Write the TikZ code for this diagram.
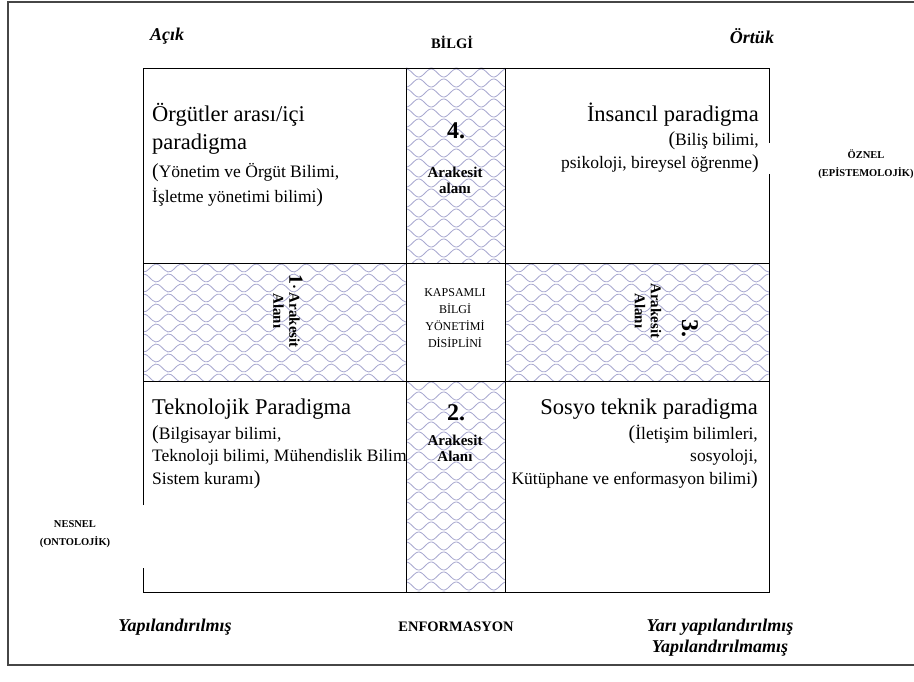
\documentclass[tikz,border=0pt]{standalone}
\usepackage{fontspec}
\setmainfont{Liberation Serif}
\definecolor{hatchc}{RGB}{168,168,208}
\definecolor{framec}{RGB}{70,70,70}
\newcommand{\bigpar}[1]{{\fontsize{20}{20}\selectfont #1}}
\newcommand{\hatchfill}[4]{%
  \begin{scope}
    \clip (#1,#2) rectangle (#3,#4);
    \fill[white] (#1,#2) rectangle (#3,#4);
    \pgfmathtruncatemacro{\nrows}{(#4-#2)/10+2}
    \foreach \k in {0,...,\nrows} {
      \draw[hatchline] plot[domain=#1-6:#3+6, samples=90, smooth]
        (\x, {#2 - 5 + \k*10 + 4*sin(14.4*\x + 180*\k)});
    }
  \end{scope}}
\begin{document}
\begin{tikzpicture}[x=1pt,y=-1pt,
  gridline/.style={draw=black, line width=0.9pt},
  hatchline/.style={draw=hatchc, line width=0.8pt},
  big/.style={font=\fontsize{22.5}{26}\selectfont, inner sep=0pt},
  sub/.style={font=\fontsize{17.5}{20}\selectfont, inner sep=0pt},
  ital/.style={font=\bfseries\itshape\fontsize{18}{21}\selectfont, inner sep=0pt, align=center},
  capb/.style={font=\bfseries\fontsize{14.5}{16}\selectfont, inner sep=0pt},
  side/.style={font=\bfseries\fontsize{10.5}{18}\selectfont, inner sep=0pt, align=center},
  arak/.style={font=\bfseries\fontsize{15}{16}\selectfont, inner sep=0pt, align=center},
  num/.style={font=\bfseries\fontsize{24}{24}\selectfont, inner sep=0pt},
  core/.style={font=\fontsize{12}{17}\selectfont, inner sep=0pt, align=center}]
\useasboundingbox (0,0) rectangle (914,682);
% paper frame
\draw[framec, line width=1.6pt] (930,2) -- (8,2) -- (8,665) -- (930,665);
% named grid coordinates
\coordinate (NW) at (143,68);
\coordinate (NE) at (769,68);
\coordinate (SE) at (769,592);
\coordinate (SW) at (143,592);
% hatched bands
\hatchfill{406}{68}{505}{263}
\hatchfill{406}{381}{505}{592}
\hatchfill{143}{263}{406}{381}
\hatchfill{505}{263}{769}{381}
% grid lines
\draw[gridline] (NW) -- (NE) -- (769,143);
\draw[gridline] (769,174) -- (SE) -- (SW) -- (143,568);
\draw[gridline] (143,505) -- (NW);
\draw[gridline] (406,68) -- (406,592);
\draw[gridline] (505,68) -- (505,592);
\draw[gridline] (143,263) -- (769,263);
\draw[gridline] (143,381) -- (769,381);
% top-left quadrant
\node[big, anchor=base west] (tl1) at (152,122) {Örgütler arası/içi};
\node[big, anchor=base west] (tl2) at (152,150) {paradigma};
\node[sub, anchor=base west] (tl3) at (152,178) {\bigpar{(}Yönetim ve Örgüt Bilimi,};
\node[sub, anchor=base west] (tl4) at (152,203) {İşletme yönetimi bilimi\bigpar{)}};
% top-right quadrant
\node[big, anchor=base east] (tr1) at (759,122) {İnsancıl paradigma};
\node[sub, anchor=base east] (tr2) at (759,146) {\bigpar{(}Biliş bilimi,};
\node[sub, anchor=base east] (tr3) at (759,169) {psikoloji, bireysel öğrenme\bigpar{)}};
% bottom-left quadrant
\node[big, anchor=base west] (bl1) at (152,414) {Teknolojik Paradigma};
\node[sub, anchor=base west] (bl2) at (152,439) {\bigpar{(}Bilgisayar bilimi,};
\node[sub, anchor=base west] (bl3) at (152,461) {Teknoloji bilimi, Mühendislik Bilim};
\node[sub, anchor=base west] (bl4) at (152,484) {Sistem kuramı\bigpar{)}};
% bottom-right quadrant
\node[big, anchor=base east] (br1) at (758,414) {Sosyo teknik paradigma};
\node[sub, anchor=base east] (br2) at (758,439) {\bigpar{(}İletişim bilimleri,};
\node[sub, anchor=base east] (br3) at (758,461) {sosyoloji,};
\node[sub, anchor=base east] (br4) at (758,484) {Kütüphane ve enformasyon bilimi\bigpar{)}};
% intersection areas
\node[num] (n4) at (456,131) {4.};
\node[arak] (a4) at (455,180) {Arakesit\\alanı};
\node[num] (n2) at (456,413) {2.};
\node[arak] (a2) at (455,448) {Arakesit\\Alanı};
\node[arak, rotate=-90] (a1) at (288,311) {{\fontsize{20}{16}\selectfont 1}· Arakesit\\Alanı};
\node[num, rotate=-90] (n3) at (690,328) {3.};
\node[arak, rotate=-90] (a3) at (648,311) {Arakesit\\Alanı};
% core
\node[core] (core) at (455,318) {KAPSAMLI\\BİLGİ\\YÖNETİMİ\\DİSİPLİNİ};
% outer labels
\node[ital] (acik) at (167,36) {Açık};
\node[capb] (bilgi) at (452,42) {BİLGİ};
\node[ital] (ortuk) at (752,36) {Örtük};
\node[ital] (yap) at (175,627) {Yapılandırılmış};
\node[capb] (enf) at (456,627) {ENFORMASYON};
\node[ital] (yari) at (720,638) {Yarı yapılandırılmış\\Yapılandırılmamış};
\node[side] (oznel) at (866,164) {ÖZNEL\\(EPİSTEMOLOJİK)};
\node[side] (nesnel) at (75,534) {NESNEL\\(ONTOLOJİK)};
\end{tikzpicture}
\end{document}
